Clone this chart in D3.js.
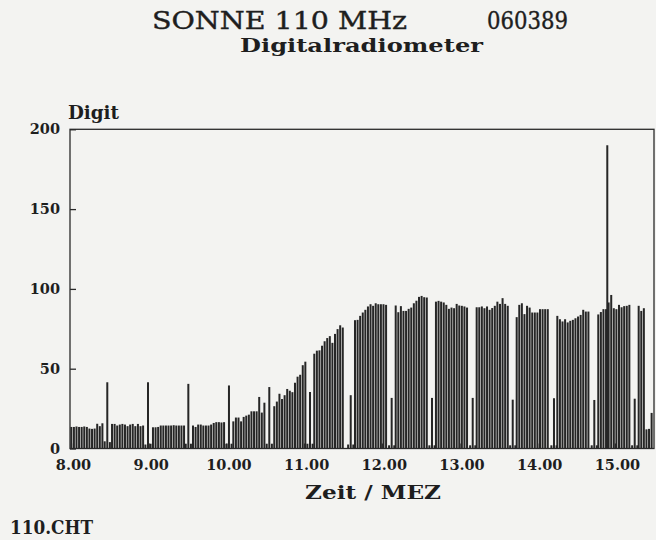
<!DOCTYPE html>
<html>
<head>
<meta charset="utf-8">
<script src="https://cdn.jsdelivr.net/npm/d3@7"></script>
<style>
  body { margin: 0; background: #f3f3f1; }
  text { font-family: "DejaVu Serif", serif; fill: #1e1e1e; }
  .bold { font-weight: bold; }
</style>
</head>
<body>
<svg id="chart" width="656" height="540"></svg>
<script>
// radiometer readings, one bar every 2 minutes inside each measuring block
var sampleStep = 2 / 60; // hours

var blockStart = [8.004, 8.528, 9.055, 9.570, 10.089, 10.616, 11.131, 11.655,
                  12.179, 12.697, 13.221, 13.736, 14.259, 14.786, 15.306];

var blockValues = [
  [13.5, 13.5, 13.8, 13.5, 13.5, 13.8, 13.5, 12.5, 12.3, 12.5, 15.5, 14, 15.8],
  [15.4, 15.4, 14.4, 15, 15.4, 15, 14, 15, 15.4, 14, 15.4, 14, 14.4],
  [13.3, 13.3, 13.5, 14.4, 14.4, 14.4, 14.4, 14.4, 14.6, 14.4, 14.4, 14.4, 14.4],
  [14.4, 13.5, 15, 15, 14.4, 14.4, 14.4, 15, 16, 16.5, 16.5, 16.3, 16.5],
  [17, 19.4, 19.4, 17, 19.8, 20.6, 21.2, 23.3, 23.3, 23.3, 32.3, 22.5, 28.7],
  [26.5, 29.4, 34.3, 31, 33.4, 37.3, 36.2, 35.3, 41.2, 45, 46.2, 52.2, 54.4],
  [59.4, 61.3, 61.5, 64.4, 67.2, 69.2, 70.4, 66.2, 71.8, 74.8, 77.2, 75.8],
  [80.4, 80.6, 83.1, 85.2, 86.9, 89, 90.4, 89.4, 91, 90.4, 90.4, 90.4, 90],
  [89.6, 85.4, 89.2, 86.2, 86.2, 87.5, 88.3, 91, 92.6, 95, 95.6, 94.8, 94.6],
  [92, 92.5, 92, 91.5, 90, 87.5, 88.3, 87.9, 90.6, 89.6, 89.4, 89, 88.3],
  [88.5, 88.5, 89, 87.9, 89, 86.9, 88, 89.4, 92, 90.6, 94.2, 90.6, 89.4],
  [82.3, 90, 91, 84.2, 89.4, 88.3, 85.2, 85.2, 85.2, 87.3, 87.3, 87.3, 87.3],
  [83.1, 81, 79.6, 81, 79, 80, 80.6, 81.6, 82.7, 83.7, 86.9, 85.8, 85.8],
  [84, 85.5, 87.3, 87.3, 91.5, 96.2, 87.9, 87.3, 90, 88.5, 89.2, 89.4, 90],
  [89.4, 86.2, 87.9, 12, 12.3, 22.3]
];

// calibration pulses between the blocks
var spikeTimes = [8.467, 8.991, 9.510, 10.033, 10.552, 11.076, 11.600, 12.127,
                  12.646, 13.170, 13.685, 14.216, 14.735, 15.255];
var spikeValues = [41.5, 41.5, 40.5, 39.5, 38.5, 35.4, 33.4, 31.7,
                   31.7, 31.7, 30.6, 31.5, 30.4, 31.2];
var lowBefore = [4.5, 2.5, 3, 3, 3, 3, 2.5, 2, 2, 2, 2, 2, 2, 2];
var lowAfter  = [4, 3, 3, 3, 3, 3, 2.5, 2, 2, 2, 2, 2, 2, 2];

// the burst shortly before 15 MEZ
var flareTime = 14.902;
var flareValue = 190;

var yTicks = [0, 50, 100, 150, 200];
var xTicks = [8, 9, 10, 11, 12, 13, 14, 15];

var svg = d3.select("#chart");
var margin = { left: 70, top: 129.3, right: 654, bottom: 448.5 };

var x = d3.scaleLinear().domain([8, 15.5]).range([margin.left + 1, margin.left + 1 + 7.5 * 77.7]);
var y = d3.scaleLinear().domain([0, 200]).range([margin.bottom, margin.top]);

// flatten everything into single bars
var bars = [];
spikeTimes.forEach(function(t, i) {
  bars.push({ t: t - sampleStep, v: lowBefore[i] });
  bars.push({ t: t + sampleStep, v: lowAfter[i] });
});
blockStart.forEach(function(s, b) {
  blockValues[b].forEach(function(v, i) {
    bars.push({ t: s + i * sampleStep, v: v });
  });
});
spikeTimes.forEach(function(t, i) { bars.push({ t: t, v: spikeValues[i] }); });
bars.push({ t: flareTime, v: flareValue });

var barW = 2;
svg.append("g")
  .selectAll("rect")
  .data(bars)
  .enter()
  .append("rect")
  .attr("x", function(d) { return x(d.t) - barW / 2; })
  .attr("y", function(d) { return y(d.v); })
  .attr("width", barW)
  .attr("height", function(d) { return y(0) - y(d.v); })
  .attr("fill", "#262626");

// frame
svg.append("rect")
  .attr("x", margin.left)
  .attr("y", margin.top)
  .attr("width", margin.right - margin.left)
  .attr("height", margin.bottom - margin.top)
  .attr("fill", "none")
  .attr("stroke", "#2a2a2a")
  .attr("stroke-width", 1.3);

// y axis, ticks point inward
var yAxis = d3.axisLeft(y)
  .tickValues(yTicks)
  .tickSize(-6)
  .tickPadding(10)
  .tickFormat(function(d) { return d; });
var gy = svg.append("g").attr("transform", "translate(" + margin.left + ",0)").call(yAxis);
gy.select(".domain").remove();
gy.selectAll("line").attr("stroke", "#2a2a2a").attr("stroke-width", 1.3);
gy.selectAll("text")
  .attr("class", "bold")
  .style("font-family", '"DejaVu Serif", serif')
  .style("font-size", "14.5px")
  .attr("fill", "#1e1e1e");

var xAxis = d3.axisBottom(x)
  .tickValues(xTicks)
  .tickSize(-5)
  .tickPadding(11)
  .tickFormat(function(d) { return d.toFixed(2); });
var gx = svg.append("g").attr("transform", "translate(0," + margin.bottom + ")").call(xAxis);
gx.select(".domain").remove();
gx.selectAll("line").attr("stroke", "#2a2a2a").attr("stroke-width", 1.3);
gx.selectAll("text")
  .attr("class", "bold")
  .attr("dx", 2)
  .style("font-family", '"DejaVu Serif", serif')
  .style("font-size", "14.5px")
  .attr("fill", "#1e1e1e");

// titles and labels
svg.append("text").attr("x", 152).attr("y", 28.5)
  .attr("textLength", 255).attr("lengthAdjust", "spacingAndGlyphs")
  .attr("stroke", "#1e1e1e").attr("stroke-width", 0.4)
  .style("font-size", "24px").text("SONNE 110 MHz");
svg.append("text").attr("x", 487).attr("y", 28.5)
  .attr("textLength", 81).attr("lengthAdjust", "spacingAndGlyphs")
  .attr("stroke", "#1e1e1e").attr("stroke-width", 0.4)
  .style("font-size", "24px").text("060389");
svg.append("text").attr("class", "bold").attr("x", 240).attr("y", 52)
  .attr("textLength", 243).attr("lengthAdjust", "spacingAndGlyphs")
  .style("font-size", "19px").text("Digitalradiometer");
svg.append("text").attr("class", "bold").attr("x", 68).attr("y", 119)
  .attr("textLength", 51).attr("lengthAdjust", "spacingAndGlyphs")
  .style("font-size", "19px").text("Digit");
svg.append("text").attr("class", "bold").attr("x", 305).attr("y", 499)
  .attr("textLength", 136).attr("lengthAdjust", "spacingAndGlyphs")
  .style("font-size", "19px").text("Zeit / MEZ");
svg.append("text").attr("class", "bold").attr("x", 10).attr("y", 534)
  .attr("textLength", 83).attr("lengthAdjust", "spacingAndGlyphs")
  .style("font-size", "18.5px").text("110.CHT");
</script>
</body>
</html>
